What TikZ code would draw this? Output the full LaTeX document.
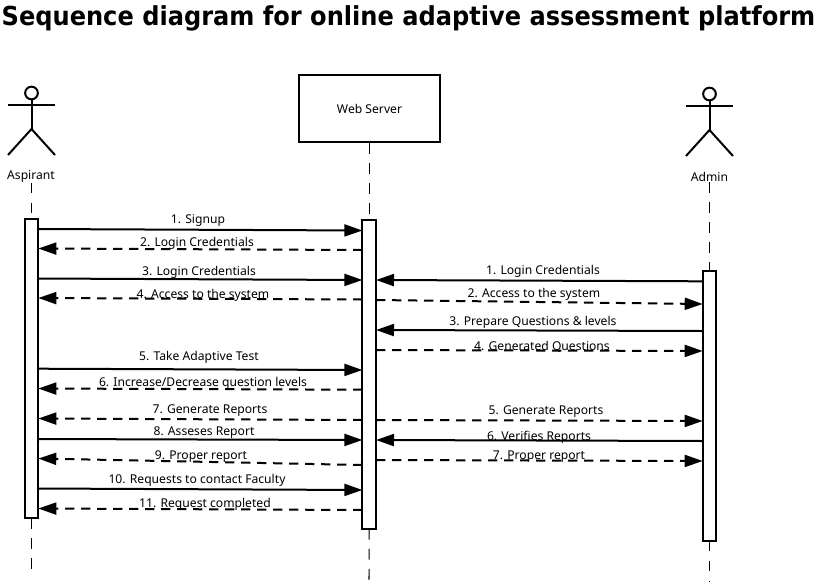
\documentclass[tikz,border=0pt]{standalone}
\usepackage{fontspec}
\setmainfont{Noto Sans}
\newfontfamily\titlefont{DejaVu Sans}
\usetikzlibrary{arrows.meta}
\tikzset{
  lifethin/.style={draw=black,line width=0.8pt,dash pattern=on 8pt off 7pt},
  bar/.style={draw=black,fill=white,line width=1.5pt,inner sep=0pt,outer sep=0pt,minimum width=10.2pt},
  limb/.style={draw=black,line width=1.5pt},
  msg/.style={draw=black,line width=1.5pt,-{Triangle[length=13.5pt,width=9pt]}},
  reply/.style={msg,dash pattern=on 7pt off 5pt},
  lab/.style={font=\fontsize{9.1pt}{10pt}\selectfont,inner sep=0pt,text=black},
}
\begin{document}
\begin{tikzpicture}[x=0.75pt,y=-0.75pt]
\useasboundingbox (0,0) rectangle (819,587);
\node[font=\titlefont\bfseries\fontsize{19.6pt}{22pt}\selectfont,inner sep=0pt,anchor=center] (title) at (408.5,18) {\scalebox{0.922}[1]{Sequence diagram for online adaptive assessment platform}};
% lifelines
\node[draw=black,line width=1.5pt,minimum width=105.5pt,minimum height=50pt,inner sep=0pt,lab] (web) at (369.5,108.5) {Web Server};
\node[lab] (asplabel) at (31,176.5) {Aspirant};
\node[lab] (admlabel) at (709.5,177) {Admin};
\coordinate (aspend) at (31.5,572);
\coordinate (webend) at (369,585);
\coordinate (admend) at (709.5,582);
\node[bar,minimum height=224pt] (A) at (31.5,368.5) {};
\node[bar,minimum height=231.5pt] (W) at (369.2,374.5) {};
\node[bar,minimum height=202pt] (D) at (709.5,406) {};
\draw[lifethin] (asplabel.south -| A.north) -- (A.north);
\draw[lifethin] (A.south) -- (aspend);
\draw[lifethin] (web.south -| W.north) -- (W.north);
\draw[lifethin] (W.south) -- (webend);
\draw[lifethin] (admlabel.south -| D.north) -- (D.north);
\draw[lifethin] (D.south) -- (admend);
% actors
\node[draw=black,circle,line width=1.5pt,minimum size=9.5pt,inner sep=0pt] (h1) at (31.5,93) {};
\draw[limb] (h1.south) -- (31.5,129) coordinate (c1);
\draw[limb] (8,105) -- (55,105);
\draw[limb] (8,155) -- (c1) -- (55,155);
\node[draw=black,circle,line width=1.5pt,minimum size=9.5pt,inner sep=0pt] (h2) at (709.5,94) {};
\draw[limb] (h2.south) -- (709.5,130) coordinate (c2);
\draw[limb] (686,106) -- (733,106);
\draw[limb] (686,156) -- (c2) -- (733,156);
% left side messages
\newcommand{\AW}[3]{\draw[#3] (A.east |- 0,#1) -- (W.west |- 0,#2);}
\newcommand{\WA}[3]{\draw[#3] (W.west |- 0,#1) -- (A.east |- 0,#2);}
\newcommand{\WD}[3]{\draw[#3] (W.east |- 0,#1) -- (D.west |- 0,#2);}
\newcommand{\DW}[3]{\draw[#3] (D.west |- 0,#1) -- (W.east |- 0,#2);}
\AW{229}{230.5}{msg}
\WA{250}{248.5}{reply}
\AW{278.5}{280}{msg}
\WA{299.5}{298}{reply}
\AW{368.7}{370}{msg}
\WA{389.7}{388.5}{reply}
\WA{420}{418.5}{reply}
\AW{439}{440}{msg}
\WA{465}{458.5}{reply}
\AW{488.5}{490}{msg}
\WA{510}{508.5}{reply}
% right side messages
\DW{281.3}{280}{msg}
\WD{300}{304}{reply}
\DW{331}{330}{msg}
\WD{350}{351}{reply}
\WD{420}{421}{reply}
\DW{441}{440}{msg}
\WD{460}{461}{reply}
% labels
\node[lab] (l1) at (198,220.5) {1. Signup};
\node[lab] (l2) at (197,243) {2. Login Credentials};
\node[lab] (l3) at (199,272.5) {3. Login Credentials};
\node[lab] (l4) at (203,295) {4. Access to the system};
\node[lab] (l5) at (199,357.5) {5. Take Adaptive Test};
\node[lab] (l6) at (203,383) {6. Increase/Decrease question levels};
\node[lab] (l7) at (210,411) {7. Generate Reports};
\node[lab] (l8) at (204,433) {8. Asseses Report};
\node[lab] (l9) at (201,457) {9. Proper report};
\node[lab] (l10) at (197,480) {10. Requests to contact Faculty};
\node[lab] (l11) at (205,504) {11. Request completed};
\node[lab] (r1) at (543,271) {1. Login Credentials};
\node[lab] (r2) at (534,294) {2. Access to the system};
\node[lab] (r3) at (533,322) {3. Prepare Questions \& levels};
\node[lab] (r4) at (542,347) {4. Generated Questions};
\node[lab] (r5) at (546,412) {5. Generate Reports};
\node[lab] (r6) at (539,437) {6. Verifies Reports};
\node[lab] (r7) at (539,456.5) {7. Proper report};
\end{tikzpicture}
\end{document}
